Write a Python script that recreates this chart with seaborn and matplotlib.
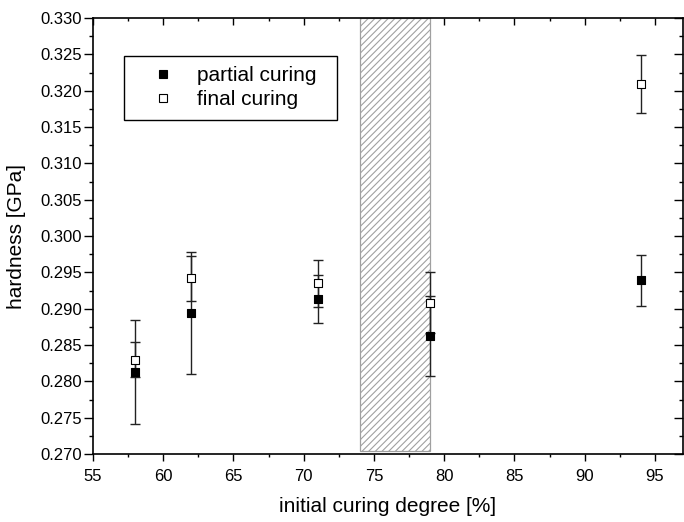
import numpy as np
import pandas as pd
import matplotlib
matplotlib.use("Agg")
import matplotlib.pyplot as plt
import seaborn as sns
from matplotlib.ticker import MultipleLocator, FormatStrFormatter
from matplotlib.lines import Line2D

# ---- data ----
degree = [58, 62, 71, 79, 94]
partial_hardness = [0.2813, 0.2894, 0.2913, 0.2862, 0.2939]
partial_err = [0.0072, 0.0084, 0.0033, 0.0055, 0.0035]
final_hardness = [0.2830, 0.2942, 0.2935, 0.2908, 0.3209]
final_err = [0.0024, 0.0031, 0.0032, 0.0042, 0.0040]
band = (74, 79)

sns.set_theme(style="ticks")
plt.rcParams['font.family'] = ['Liberation Sans', 'DejaVu Sans']
plt.rcParams['text.color'] = 'black'
plt.rcParams['axes.labelcolor'] = 'black'
plt.rcParams['xtick.color'] = 'black'
plt.rcParams['ytick.color'] = 'black'
plt.rcParams['hatch.color'] = '#9a9a9a'
plt.rcParams['hatch.linewidth'] = 0.8

fig = plt.figure(figsize=(6.84, 5.22), dpi=100)
ax = fig.add_axes([0.136, 0.130, 0.8625, 0.8355])

# hatched band
ax.axvspan(band[0], band[1], ymin=0.008, ymax=1.0, facecolor='white',
           edgecolor='#a0a0a0', hatch='/////', linewidth=0.9, zorder=1)

dfp = pd.DataFrame({'x': degree, 'y': partial_hardness, 'e': partial_err})
dff = pd.DataFrame({'x': degree, 'y': final_hardness, 'e': final_err})

ax.errorbar(dfp['x'], dfp['y'], yerr=dfp['e'], fmt='none', ecolor='#222222',
            elinewidth=1.0, capsize=3.3, capthick=1.0, zorder=2)
ax.errorbar(dff['x'], dff['y'], yerr=dff['e'], fmt='none', ecolor='#222222',
            elinewidth=1.0, capsize=3.3, capthick=1.0, zorder=2)

sns.scatterplot(data=dfp, x='x', y='y', marker='s', s=40, color='black',
                edgecolor='black', linewidth=0.8, ax=ax, zorder=4)
sns.scatterplot(data=dff, x='x', y='y', marker='s', s=40, color='white',
                edgecolor='black', linewidth=0.8, ax=ax, zorder=3)

ax.set_xlim(55, 97)
ax.set_ylim(0.270, 0.330)
ax.xaxis.set_major_locator(MultipleLocator(5))
ax.xaxis.set_minor_locator(MultipleLocator(2.5))
ax.yaxis.set_major_locator(MultipleLocator(0.005))
ax.yaxis.set_minor_locator(MultipleLocator(0.0025))
ax.yaxis.set_major_formatter(FormatStrFormatter('%.3f'))

for s in ax.spines.values():
    s.set_visible(True)
    s.set_color('black')
    s.set_linewidth(1.2)

ax.tick_params(axis='both', which='both', colors='black', labelcolor='black',
               labelsize=12, width=1.0, direction='out')
ax.tick_params(axis='x', which='major', length=5, pad=6)
ax.tick_params(axis='x', which='minor', length=2.5)
ax.tick_params(axis='y', which='major', length=6.5, pad=1.5)
ax.tick_params(axis='y', which='minor', length=3)
ax.tick_params(axis='x', which='both', top=True)
ax.tick_params(axis='y', which='both', right=True)
# top / right ticks inward
for t in ax.xaxis.get_major_ticks() + ax.xaxis.get_minor_ticks():
    t.tick2line.set_marker(matplotlib.lines.TICKDOWN)
for t in ax.yaxis.get_major_ticks() + ax.yaxis.get_minor_ticks():
    t.tick2line.set_marker(matplotlib.lines.TICKLEFT)

ax.set_xlabel('initial curing degree [%]', fontsize=15, labelpad=9, color='black')
ax.set_ylabel('hardness [GPa]', fontsize=15, labelpad=10, color='black')

handles = [
    Line2D([], [], linestyle='none', marker='s', markersize=5.5,
           markerfacecolor='black', markeredgecolor='black', markeredgewidth=0.8),
    Line2D([], [], linestyle='none', marker='s', markersize=5.5,
           markerfacecolor='white', markeredgecolor='black', markeredgewidth=0.8),
]
leg = ax.legend(handles, ['partial curing', 'final curing'], loc='upper left',
                bbox_to_anchor=(0.0525, 0.5, 0.361, 0.4135), mode='expand',
                fontsize=15, frameon=True, labelcolor='black',
                fancybox=False, edgecolor='black', framealpha=1,
                handlelength=2.75, handletextpad=0.26, borderpad=0.5,
                labelspacing=0.25, borderaxespad=0)
leg.get_frame().set_linewidth(1.0)

fig.savefig('out.png', dpi=100)
